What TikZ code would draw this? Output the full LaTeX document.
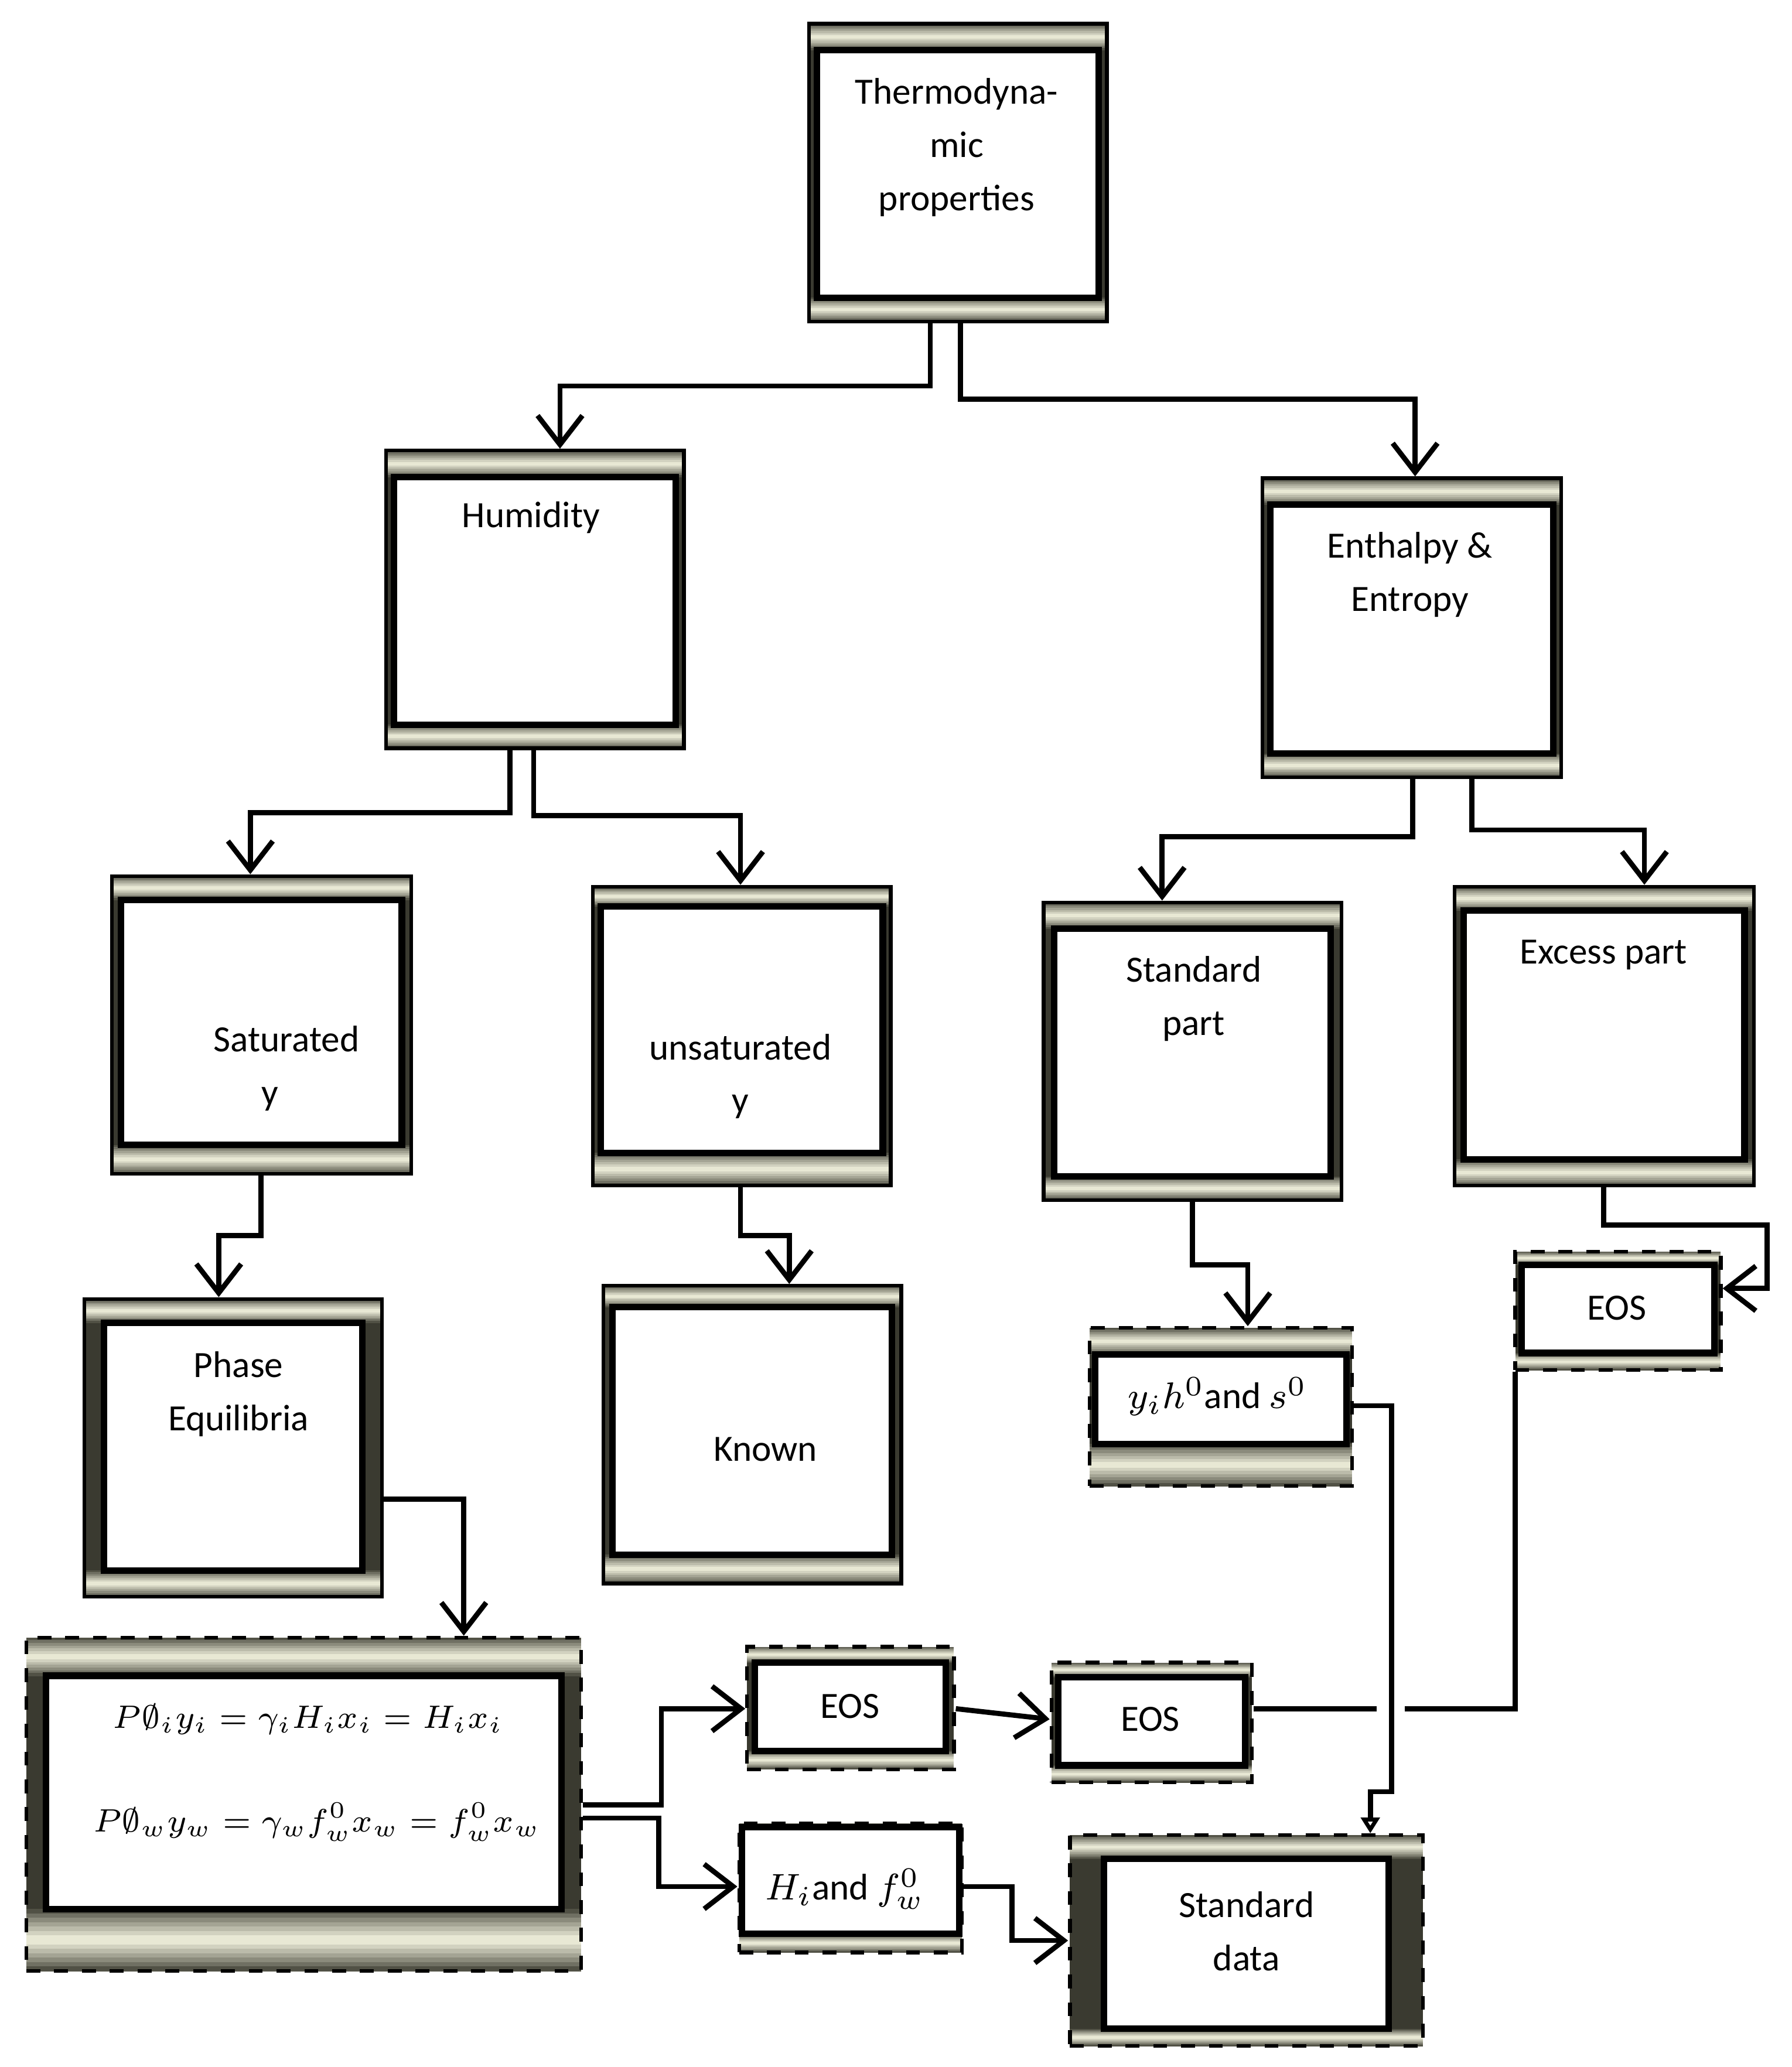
\documentclass[tikz,border=0pt]{standalone}
\usepackage{fontspec}
\setmainfont{Carlito}
\usetikzlibrary{arrows.meta,fit}
\definecolor{fd}{HTML}{3A3A30}
\definecolor{fl}{HTML}{F2F2DE}
\tikzset{
  arr/.style={line width=1.1pt,-{Straight Barb[length=0.22cm,width=0.34cm,line width=1.1pt]}},
  ln/.style={line width=1.1pt},
  lbl/.style={align=center,font=\fontsize{8pt}{11.5pt}\selectfont,inner sep=0},
  eqs/.style={font=\fontsize{6.6pt}{9pt}\selectfont,inner sep=0},
}
\newcommand\gbar[4]{%
  \foreach \i in {0,...,13}{%
    \pgfmathsetmacro\m{100*(1-abs(2*(\i+0.5)/14-1))^0.8}%
    \fill[fl!\m!fd] (#1,{(#2)+((#4)-(#2))*\i/14}) rectangle (#3,{(#2)+((#4)-(#2))*(\i+1)/14+0.3});
  }}
\newcommand\gframe[9]{%
  \fill[fd] (#2,#3) rectangle (#4,#5);
  \gbar{#2}{#3}{#4}{#3+#7}
  \gbar{#2}{#5-#8}{#4}{#5}
  \node[fit={(#2,#3) (#4,#5)},inner sep=0,draw=black,line width=0.8pt,#9] (#1) {};
  \draw[line width=1.4pt,fill=white] (#2+#6,#3+#7) rectangle (#4-#6,#5-#8);
}
\begin{document}
\begin{tikzpicture}[x=0.01cm,y=-0.01cm]
\useasboundingbox (0,0) rectangle (1360,1569);
\gframe{thermo}{614}{18}{840}{244}{6}{20}{18}{}
\gframe{hum}{293}{342}{519}{568}{6}{20}{18}{}
\gframe{ent}{958}{363}{1185}{590}{6}{20}{18}{}
\gframe{sat}{85}{665}{312}{891}{7}{18}{22}{}
\gframe{uns}{450}{673}{676}{900}{6}{15}{25}{}
\gframe{std}{792}{685}{1018}{911}{8}{20}{18}{}
\gframe{exc}{1104}{673}{1331}{900}{7}{18}{20}{}
\gframe{pha}{64}{986}{290}{1212}{15}{18}{20}{}
\gframe{kno}{458}{976}{684}{1202}{7}{16}{22}{}
\gframe{yh}{827}{1008}{1026}{1128}{4}{20}{32}{dashed}
\gframe{eosr}{1150}{950}{1306}{1040}{5}{10}{13}{dashed}
\gframe{eq}{20}{1243}{441}{1496}{15}{29}{47}{dashed}
\gframe{eosa}{567}{1250}{724}{1343}{6}{12}{14}{dashed}
\gframe{eosb}{798}{1262}{950}{1353}{5}{11}{13}{dashed}
\gframe{hf}{561}{1384}{730}{1482}{2}{3}{14}{dashed}
\gframe{sdat}{812}{1393}{1080}{1553}{26}{18}{13}{dashed}

\node[lbl] (t1) at (726,112) {Thermodyna-\\mic\\properties};
\node[lbl] (t2) at (403,393) {Humidity};
\node[lbl] (t3) at (1070,436) {Enthalpy \&\\Entropy};
\node[lbl] (t4) at (205,811) {\hspace*{0.25cm}Saturated\\y};
\node[lbl] (t5) at (562,817) {unsaturated\\y};
\node[lbl] (t6) at (906,758) {Standard\\part};
\node[lbl] (t7) at (1217,725) {Excess part};
\node[lbl] (t8) at (181,1058) {Phase\\Equilibria};
\node[lbl] (t9) at (581,1100) {Known};
\node[lbl] (t10) at (924,1060) {$y_i h^0$and $s^0$};
\node[lbl] (t11) at (1227,993) {EOS};
\node[lbl] (t12) at (645,1295) {EOS};
\node[lbl] (t13) at (873,1305) {EOS};
\node[eqs,anchor=west] (t14) at (85,1305) {$P\emptyset_i y_i=\gamma_i H_i x_i=H_i x_i$};
\node[eqs,anchor=west] (t15) at (70,1383) {$P\emptyset_w y_w=\gamma_w f_w^0 x_w=f_w^0 x_w$};
\node[lbl] (t16) at (641,1434) {$H_i$and $f_w^0$};
\node[lbl] (t17) at (946,1466) {Standard\\data};

\draw[arr] (thermo.south -| 706,0) |- (425,293) -- (hum.north -| 425,0);
\draw[arr] (thermo.south -| 729,0) |- (1074,303) -- (ent.north -| 1074,0);
\draw[arr] (hum.south -| 387,0) |- (190,617) -- (sat.north -| 190,0);
\draw[arr] (hum.south -| 405,0) |- (562,619) -- (uns.north -| 562,0);
\draw[arr] (ent.south -| 1072,0) |- (882,635) -- (std.north -| 882,0);
\draw[arr] (ent.south -| 1117,0) |- (1248,630) -- (exc.north -| 1248,0);
\draw[arr] (sat.south -| 198,0) |- (166,938) -- (pha.north -| 166,0);
\draw[arr] (uns.south -| 562,0) |- (599,938) -- (kno.north -| 599,0);
\draw[arr] (std.south -| 905,0) |- (947,960) -- (yh.north -| 947,0);
\draw[arr] (exc.south -| 1217,0) |- (1341,930) |- (eosr.east |- 0,978);
\draw[ln,-{Triangle[open,length=0.12cm,width=0.14cm]}] (yh.east |- 0,1067) -| (1056,1360) -| (sdat.north -| 1040,0);
\draw[ln] (eosr.south -| 1150,0) |- (1066,1297);
\draw[ln] (1045,1297) -- (eosb.east |- 0,1297);
\draw[arr] (pha.east |- 0,1138) -| (eq.north -| 352,0);
\draw[arr] (eq.east |- 0,1370) -| (502,1297) -- (eosa.west |- 0,1297);
\draw[arr] (eq.east |- 0,1380) -| (500,1432) -- (hf.west |- 0,1432);
\draw[arr] (eosa.east |- 0,1297) -- (eosb.west |- 0,1305);
\draw[arr] (hf.east |- 0,1432) -| (768,1473) -- (sdat.west |- 0,1473);
\end{tikzpicture}
\end{document}
